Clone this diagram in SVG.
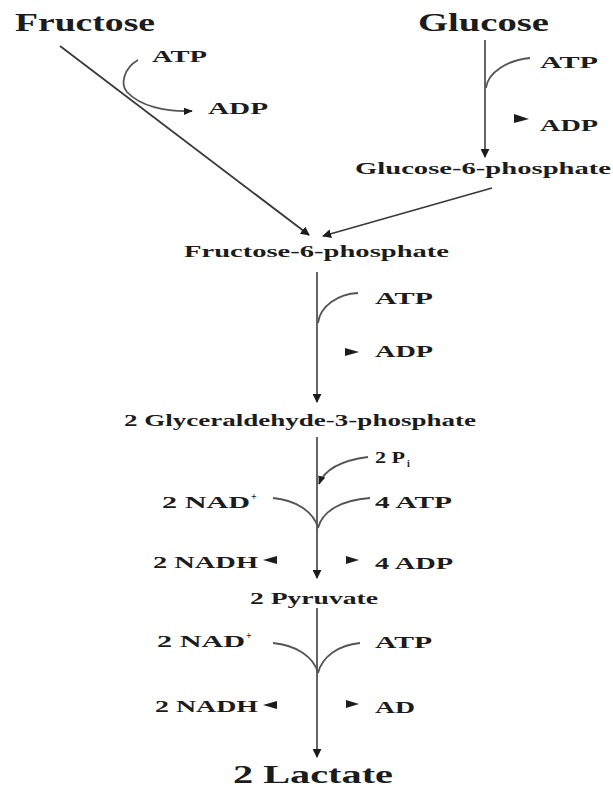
<svg xmlns="http://www.w3.org/2000/svg" width="613" height="787" viewBox="0 0 613 787">
<style>
text{font-family:"Liberation Serif","Times New Roman",serif;font-weight:bold;fill:#1c1c1c;}
.big{font-size:25px;}
.mid{font-size:16px;}
.sm{font-size:16px;}
.sup{font-size:10px;}
.ln{stroke:#3a3a3a;stroke-width:1.8;fill:none;}
.cv{stroke:#555;stroke-width:1.8;fill:none;}
.head{fill:#1c1c1c;}
</style>
<defs>
<marker id="ah" viewBox="0 0 10 10" refX="9" refY="5" markerWidth="9" markerHeight="9" markerUnits="userSpaceOnUse" orient="auto">
<path d="M0,0 L10,5 L0,10 z" fill="#1c1c1c"/>
</marker>
<marker id="ahs" viewBox="0 0 10 10" refX="9" refY="5" markerWidth="9" markerHeight="9" markerUnits="userSpaceOnUse" orient="auto">
<path d="M0,1 L10,5 L0,9 z" fill="#1c1c1c"/>
</marker>
</defs>

<g id="fructose"><text class="big" x="15" y="31" textLength="140" lengthAdjust="spacingAndGlyphs">Fructose</text></g>
<g id="glucose"><text class="big" x="418" y="31" textLength="131" lengthAdjust="spacingAndGlyphs">Glucose</text></g>
<g id="g6p"><text class="mid" x="355" y="174" textLength="256" lengthAdjust="spacingAndGlyphs">Glucose-6-phosphate</text></g>
<g id="f6p"><text class="mid" x="184" y="257" textLength="265" lengthAdjust="spacingAndGlyphs">Fructose-6-phosphate</text></g>
<g id="gap"><text class="mid" x="124" y="426" textLength="352" lengthAdjust="spacingAndGlyphs">2 Glyceraldehyde-3-phosphate</text></g>
<g id="pyruvate"><text class="mid" x="250" y="604" textLength="128" lengthAdjust="spacingAndGlyphs">2 Pyruvate</text></g>
<g id="lactate"><text class="big" x="233" y="783" font-size="23" textLength="160" lengthAdjust="spacingAndGlyphs">2 Lactate</text></g>

<g id="cofactors">
<text class="sm" x="152" y="62" textLength="55" lengthAdjust="spacingAndGlyphs">ATP</text>
<text class="sm" x="208" y="114" textLength="60" lengthAdjust="spacingAndGlyphs">ADP</text>
<text class="sm" x="540" y="68" textLength="58" lengthAdjust="spacingAndGlyphs">ATP</text>
<text class="sm" x="540" y="131" textLength="58" lengthAdjust="spacingAndGlyphs">ADP</text>
<text class="sm" x="375" y="304" textLength="58" lengthAdjust="spacingAndGlyphs">ATP</text>
<text class="sm" x="375" y="357" textLength="58" lengthAdjust="spacingAndGlyphs">ADP</text>
<text class="sm" x="375" y="463" textLength="30" lengthAdjust="spacingAndGlyphs">2 P</text>
<text class="sup" x="407" y="467">i</text>
<text class="sm" x="162" y="508" textLength="88" lengthAdjust="spacingAndGlyphs">2 NAD</text>
<text class="sup" x="251" y="500">+</text>
<text class="sm" x="375" y="508" textLength="77" lengthAdjust="spacingAndGlyphs">4 ATP</text>
<text class="sm" x="153" y="568" textLength="105" lengthAdjust="spacingAndGlyphs">2 NADH</text>
<text class="sm" x="375" y="569" textLength="78" lengthAdjust="spacingAndGlyphs">4 ADP</text>
<text class="sm" x="157" y="647" textLength="88" lengthAdjust="spacingAndGlyphs">2 NAD</text>
<text class="sup" x="246" y="639">+</text>
<text class="sm" x="375" y="648" textLength="57" lengthAdjust="spacingAndGlyphs">ATP</text>
<text class="sm" x="155" y="712" textLength="103" lengthAdjust="spacingAndGlyphs">2 NADH</text>
<text class="sm" x="375" y="713" textLength="40" lengthAdjust="spacingAndGlyphs">AD</text>
</g>

<g id="connectors">
<line class="ln" x1="60" y1="46" x2="309" y2="235" marker-end="url(#ah)"/>
<line class="ln" x1="492" y1="188" x2="323" y2="236" marker-end="url(#ah)"/>
<line class="cv" x1="485" y1="40" x2="485" y2="157" marker-end="url(#ah)"/>
<line class="cv" x1="317" y1="272" x2="317" y2="402" marker-end="url(#ah)"/>
<line class="cv" x1="317" y1="437" x2="317" y2="578" marker-end="url(#ah)"/>
<line class="cv" x1="317" y1="608" x2="317" y2="757" marker-end="url(#ah)"/>

<path class="cv" d="M138,60 C124,68 120,84 127,92 C140,106 165,112 192,111" marker-end="url(#ahs)"/>
<path class="cv" d="M530,58 C508,60 488,72 486,88"/>
<path class="head" d="M514,114 L529,119 L514,123 z"/>
<path class="cv" d="M358,293 C338,294 320,306 318,323"/>
<path class="head" d="M345,348 L359,352 L345,356 z"/>
<path class="cv" d="M368,457 C345,460 325,468 319,484" marker-end="url(#ahs)"/>
<path class="cv" d="M273,498 C296,500 314,512 318,528 C322,512 340,500 370,498"/>
<path class="head" d="M277,556 L263,560 L277,564 z"/>
<path class="head" d="M346,556 L359,560 L346,564 z"/>
<path class="cv" d="M273,643 C296,645 314,657 318,673 C322,657 338,645 360,643"/>
<path class="head" d="M277,701 L263,705 L277,709 z"/>
<path class="head" d="M346,700 L359,704 L346,708 z"/>
</g>
</svg>
